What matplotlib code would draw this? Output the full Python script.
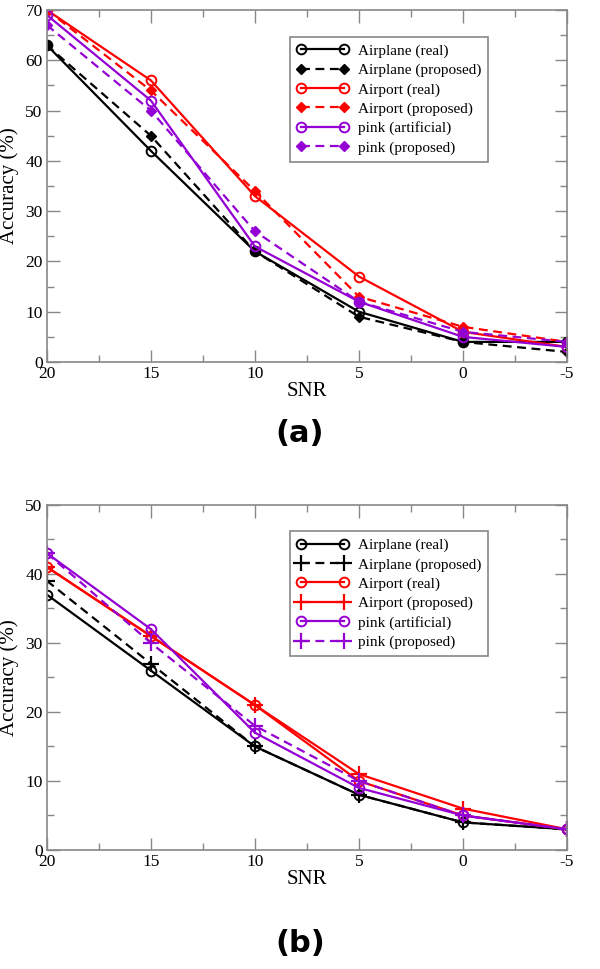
import matplotlib
matplotlib.use("Agg")
import matplotlib.pyplot as plt
from matplotlib.ticker import MultipleLocator

plt.rcParams["font.family"] = ["Liberation Serif", "DejaVu Serif"]
plt.rcParams["axes.unicode_minus"] = False

snr = [20, 15, 10, 5, 0, -5]

# panel (a)
a_airplane_real = [63, 42, 22, 10, 4, 4]
a_airplane_prop = [63, 45, 22, 9, 4, 2]
a_airport_real = [70, 56, 33, 17, 6, 3]
a_airport_prop = [70, 54, 34, 13, 7, 4]
a_pink_art = [69, 52, 23, 12, 5, 3]
a_pink_prop = [67, 50, 26, 12, 6, 4]

# panel (b)
b_airplane_real = [37, 26, 15, 8, 4, 3]
b_airplane_prop = [39, 27, 15, 8, 4, 3]
b_airport_real = [41, 31, 21, 10, 5, 3]
b_airport_prop = [41, 31, 21, 11, 6, 3]
b_pink_art = [43, 32, 17, 9, 5, 3]
b_pink_prop = [43, 30, 18, 10, 5, 3]

labels = ["Airplane (real)", "Airplane (proposed)", "Airport (real)",
          "Airport (proposed)", "pink (artificial)", "pink (proposed)"]
BLACK, RED, PURPLE = "#000000", "#ff0000", "#9400d3"
GRAY = "#888888"

fig = plt.figure(figsize=(6.0, 9.69), dpi=100)
ax_a = fig.add_axes([0.078, 0.6264, 0.867, 0.3633])
ax_b = fig.add_axes([0.078, 0.1228, 0.867, 0.3562])


def style_axes(ax, ymax):
    ax.set_xlim(20, -5)
    ax.set_ylim(0, ymax)
    ax.xaxis.set_major_locator(MultipleLocator(5))
    ax.xaxis.set_minor_locator(MultipleLocator(2.5))
    ax.yaxis.set_major_locator(MultipleLocator(10))
    ax.yaxis.set_minor_locator(MultipleLocator(5))
    ax.tick_params(which="both", direction="in", top=True, right=True,
                   color=GRAY, labelsize=12.5)
    ax.tick_params(axis="x", pad=3)
    ax.tick_params(axis="y", pad=3)
    ax.tick_params(which="major", length=9, width=1)
    ax.tick_params(which="minor", length=5, width=1)
    for s in ax.spines.values():
        s.set_color(GRAY)
        s.set_linewidth(1.2)
    ax.set_xlabel("SNR", fontsize=15, labelpad=0)
    ax.set_ylabel("Accuracy (%)", fontsize=15)
    ax.yaxis.set_label_coords(-0.054, 0.5)
    leg = ax.legend(loc="upper right", bbox_to_anchor=(0.848, 0.923),
                    fontsize=11, numpoints=2, handlelength=3.4,
                    fancybox=False, framealpha=1, borderpad=0.45,
                    borderaxespad=0, labelspacing=0.36, handletextpad=0.6)
    leg.get_frame().set_edgecolor(GRAY)
    leg.get_frame().set_linewidth(1.2)


lw = 1.6
dash = (0, (4, 2.5))
circ = dict(marker="o", markersize=7, markerfacecolor="none", markeredgewidth=1.4)
dia = dict(marker="D", markersize=5.5)

ax_a.plot(snr, a_airplane_real, color=BLACK, lw=lw, label=labels[0], **circ)
ax_a.plot(snr, a_airplane_prop, color=BLACK, lw=lw, ls=dash, label=labels[1], **dia)
ax_a.plot(snr, a_airport_real, color=RED, lw=lw, label=labels[2], **circ)
ax_a.plot(snr, a_airport_prop, color=RED, lw=lw, ls=dash, label=labels[3], **dia)
ax_a.plot(snr, a_pink_art, color=PURPLE, lw=lw, label=labels[4], **circ)
ax_a.plot(snr, a_pink_prop, color=PURPLE, lw=lw, ls=dash, label=labels[5], **dia)
style_axes(ax_a, 70)

plus = dict(marker="+", markersize=11, markeredgewidth=1.6)
ax_b.plot(snr, b_airplane_real, color=BLACK, lw=lw, label=labels[0], **circ)
ax_b.plot(snr, b_airplane_prop, color=BLACK, lw=lw, ls=dash, label=labels[1], **plus)
ax_b.plot(snr, b_airport_real, color=RED, lw=lw, label=labels[2], **circ)
ax_b.plot(snr, b_airport_prop, color=RED, lw=lw, label=labels[3], **plus)
ax_b.plot(snr, b_pink_art, color=PURPLE, lw=lw, label=labels[4], **circ)
ax_b.plot(snr, b_pink_prop, color=PURPLE, lw=lw, ls=dash, label=labels[5], **plus)
style_axes(ax_b, 50)

fig.text(0.5, 1 - 433 / 969, "(a)", ha="center", va="center", fontsize=22,
         fontweight="bold", family="DejaVu Sans")
fig.text(0.5, 1 - 943 / 969, "(b)", ha="center", va="center", fontsize=22,
         fontweight="bold", family="DejaVu Sans")

fig.savefig("out.png", dpi=100)
